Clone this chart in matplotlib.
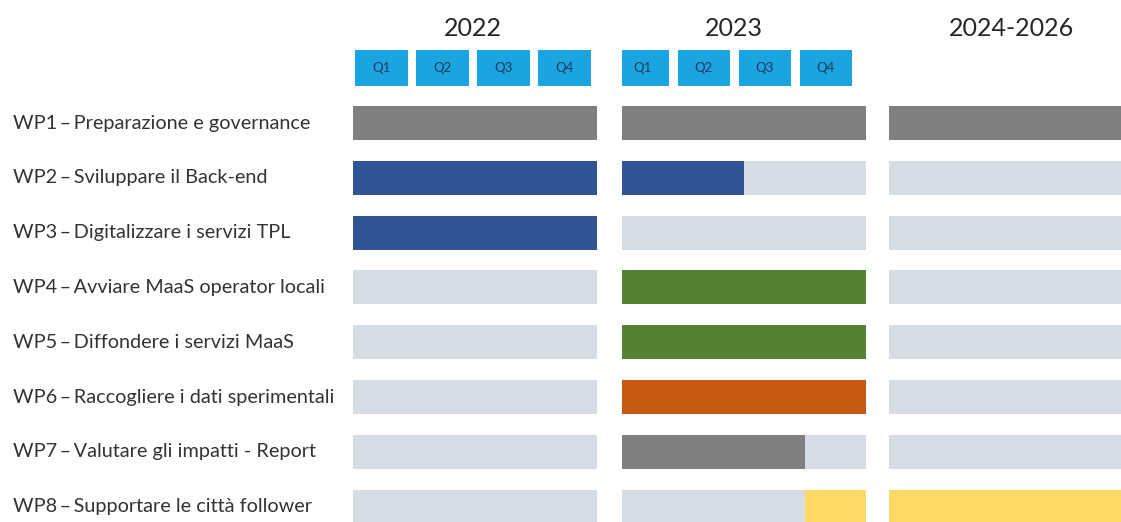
"""Gantt chart of the MaaS work packages, 2022-2026."""

import matplotlib
matplotlib.use('Agg')
from matplotlib import pyplot as plt
from matplotlib import transforms

# Work packages (top to bottom)
WORK_PACKAGES = [
    'WP1\u2009–\u2009Preparazione e governance',
    'WP2\u2009–\u2009Sviluppare il Back-end',
    'WP3\u2009–\u2009Digitalizzare i servizi TPL',
    'WP4\u2009–\u2009Avviare MaaS operator locali',
    'WP5\u2009–\u2009Diffondere i servizi MaaS',
    'WP6\u2009–\u2009Raccogliere i dati sperimentali',
    'WP7\u2009–\u2009Valutare gli impatti - Report',
    'WP8\u2009–\u2009Supportare le città follower',
]

# Active period of each WP, in quarters from the start of 2022
# (2022 = 0-4, 2023 = 4-8, 2024-2026 = 8-12)
ACTIVE_START = [0, 0, 0, 4, 4, 4, 4, 7]
ACTIVE_END = [12, 6, 4, 8, 8, 8, 7, 12]
WP_COLORS = ['#7f7f7f', '#2f5597', '#2f5597', '#548235',
             '#548235', '#c55a11', '#7f7f7f', '#ffd966']

# Timeline blocks
BLOCK_LABELS = ['2022', '2023', '2024-2026']
BLOCK_START = [0, 4, 8]
BLOCK_END = [4, 8, 12]
BLOCK_QUARTERS = [['Q1', 'Q2', 'Q3', 'Q4'], ['Q1', 'Q2', 'Q3', 'Q4'], []]

_IDLE_COLOR = '#d6dce5'
_HEADER_COLOR = '#1ba5e0'

# Layout in pixels
_W, _H = 1121, 522
_BLOCK_LEFT_PX = [353, 622, 889]
_BLOCK_WIDTH_PX = 244
_HEADER_SHIFT = [-0.03, -0.16, 0.0]
_ROW0_PX = 123
_ROW_PITCH_PX = 54.8
_BAR_HEIGHT = 0.62


def main():
    plt.rcParams['font.family'] = ['Lato', 'DejaVu Sans']
    fig = plt.figure(figsize=(_W / 100, _H / 100), dpi=100)

    y_top = -_ROW0_PX / _ROW_PITCH_PX
    y_bottom = (_H - _ROW0_PX) / _ROW_PITCH_PX
    rows = list(range(len(WORK_PACKAGES)))

    axes = []
    for b, label in enumerate(BLOCK_LABELS):
        ax = fig.add_axes([_BLOCK_LEFT_PX[b] / _W, 0,
                           _BLOCK_WIDTH_PX / _W, 1])
        ax.set_xlim(BLOCK_START[b], BLOCK_END[b])
        ax.set_ylim(y_bottom, y_top)
        ax.axis('off')
        axes.append(ax)

        # Idle background for every row
        ax.barh(rows, BLOCK_END[b] - BLOCK_START[b], left=BLOCK_START[b],
                height=_BAR_HEIGHT, color=_IDLE_COLOR)

        # Active segment clipped to this block
        for i in rows:
            s = max(ACTIVE_START[i], BLOCK_START[b])
            e = min(ACTIVE_END[i], BLOCK_END[b])
            if e > s:
                ax.barh(i, e - s, left=s, height=_BAR_HEIGHT,
                        color=WP_COLORS[i])

        # Quarter header boxes
        quarters = BLOCK_QUARTERS[b]
        centers = [BLOCK_START[b] + q + 0.5 + _HEADER_SHIFT[b]
                   for q in range(len(quarters))]
        if quarters:
            ax.bar(centers, 0.66, bottom=-1.33, width=0.86,
                   color=_HEADER_COLOR)
            for cx, q in zip(centers, quarters):
                ax.text(cx, -1.0, q, ha='center', va='center',
                        fontsize=9.5, color='#1f3a5f')
            year_x = sum(centers) / len(centers)
        else:
            year_x = (BLOCK_START[b] + BLOCK_END[b]) / 2
        ax.text(year_x, -1.72, label, ha='center', va='center',
                fontsize=18, color='#262626')

    # Work package labels on the left
    trans = transforms.blended_transform_factory(fig.transFigure,
                                                 axes[0].transData)
    for i, name in enumerate(WORK_PACKAGES):
        fig.text(13 / _W, i, name, transform=trans, ha='left',
                 va='center', fontsize=14.3, color='#333333')

    fig.savefig('out.png', dpi=100)


if __name__ == '__main__':
    main()
